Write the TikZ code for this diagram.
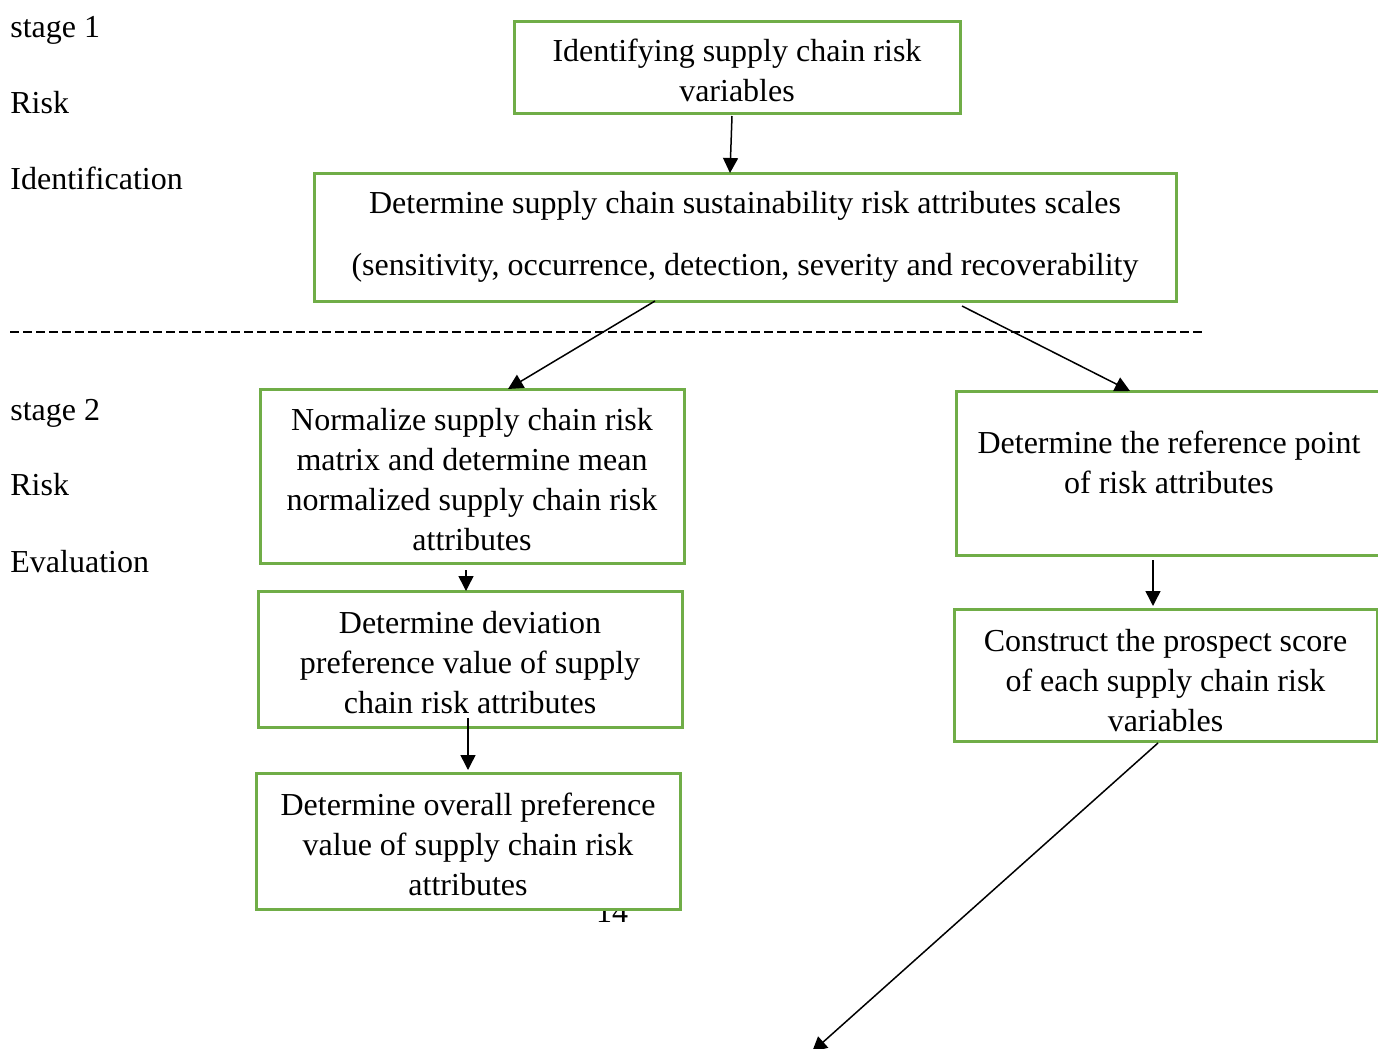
\documentclass[tikz,border=0pt]{standalone}
\usepackage{fontspec}
\setmainfont{Liberation Serif}
\usetikzlibrary{arrows.meta,positioning,calc}
\definecolor{boxgreen}{HTML}{70AD47}
\newcommand{\riskstrut}{\rule{0pt}{15pt}}
\tikzstyle{riskbox}=[draw=boxgreen,line width=1.5pt,fill=white,align=center,inner sep=0pt,outer sep=0pt]
\tikzstyle{stagelabel}=[anchor=base west,inner sep=0pt]
\tikzstyle{flow}=[->,line width=0.75pt]

\begin{document}
\begin{tikzpicture}[x=0.5pt,y=-0.5pt,>={Triangle[width=7.5pt,length=7.5pt]},font=\fontsize{16}{20}\selectfont]
    \useasboundingbox (0,0) rectangle (1378,1049);
    \clip (0,0) rectangle (1378,1049);

    % stage labels
    \node[stagelabel] (s1)     at (10,37)  {stage 1};
    \node[stagelabel] (s1risk) at (10,113.5) {Risk};
    \node[stagelabel] (s1name) at (10,189.5) {Identification};
    \node[stagelabel] (s2)     at (10,420) {stage 2};
    \node[stagelabel] (s2risk) at (10,495.5) {Risk};
    \node[stagelabel] (s2name) at (10,572.5) {Evaluation};

    \draw[line width=1pt,dash pattern=on 4.5pt off 2pt] (10,332) -- (1202,332);

    \node[anchor=base] (pagenum) at (612,922) {14};

    % stage 1
    \node[riskbox,minimum width=223pt,minimum height=46pt] (identify) at (737,67)
        {\riskstrut Identifying supply chain risk\\variables};
    \node[riskbox,minimum width=431pt,minimum height=64pt] (scales) at (745,237)
        {Determine supply chain sustainability risk attributes scales\\[11pt]
         (sensitivity, occurrence, detection, severity and recoverability};

    % stage 2
    \node[riskbox,minimum width=212pt,minimum height=87pt] (normalize) at (472,476)
        {\riskstrut Normalize supply chain risk\\matrix and determine mean\\normalized supply chain risk\\attributes};
    \node[riskbox,minimum width=212pt,minimum height=68pt] (deviation) at (470,659)
        {\riskstrut Determine deviation\\preference value of supply\\chain risk attributes};
    \node[riskbox,minimum width=212pt,minimum height=68pt] (overall) at (468,841)
        {\riskstrut Determine overall preference\\value of supply chain risk\\attributes};
    \node[riskbox,minimum width=213pt,minimum height=82pt] (refpoint) at (1169,473)
        {\riskstrut Determine the reference point\\of risk attributes\\[-5pt]\mbox{}};
    \node[riskbox,minimum width=211.5pt,minimum height=66pt] (prospect) at (1165.5,675)
        {\rule{0pt}{17pt}Construct the prospect score\\of each supply chain risk\\variables};
    \coordinate (next) at (812,1052);

    \draw[flow] ([xshift=-2.5pt,yshift=-1.5pt]identify.south) -- ([xshift=-7.5pt]scales.north);
    \draw[flow] ([xshift=-45pt]scales.south) -- ([xshift=18pt]normalize.north);
    \draw[flow] ([xshift=108.5pt,yshift=-2.5pt]scales.south) -- ([xshift=-19.5pt]refpoint.north);
    \draw[flow] ([xshift=-3pt,yshift=-3.5pt]normalize.south) -- ([xshift=-2pt]deviation.north);
    \draw[flow] ([xshift=-1pt,yshift=4.5pt]deviation.south) -- ([yshift=1.5pt]overall.north);
    \draw[flow] ([xshift=-8pt,yshift=-2.5pt]refpoint.south) -- ([xshift=-6.25pt,yshift=1.5pt]prospect.north);
    \draw[flow] ([xshift=-3.75pt,yshift=-1pt]prospect.south) -- (next);
\end{tikzpicture}
\end{document}
